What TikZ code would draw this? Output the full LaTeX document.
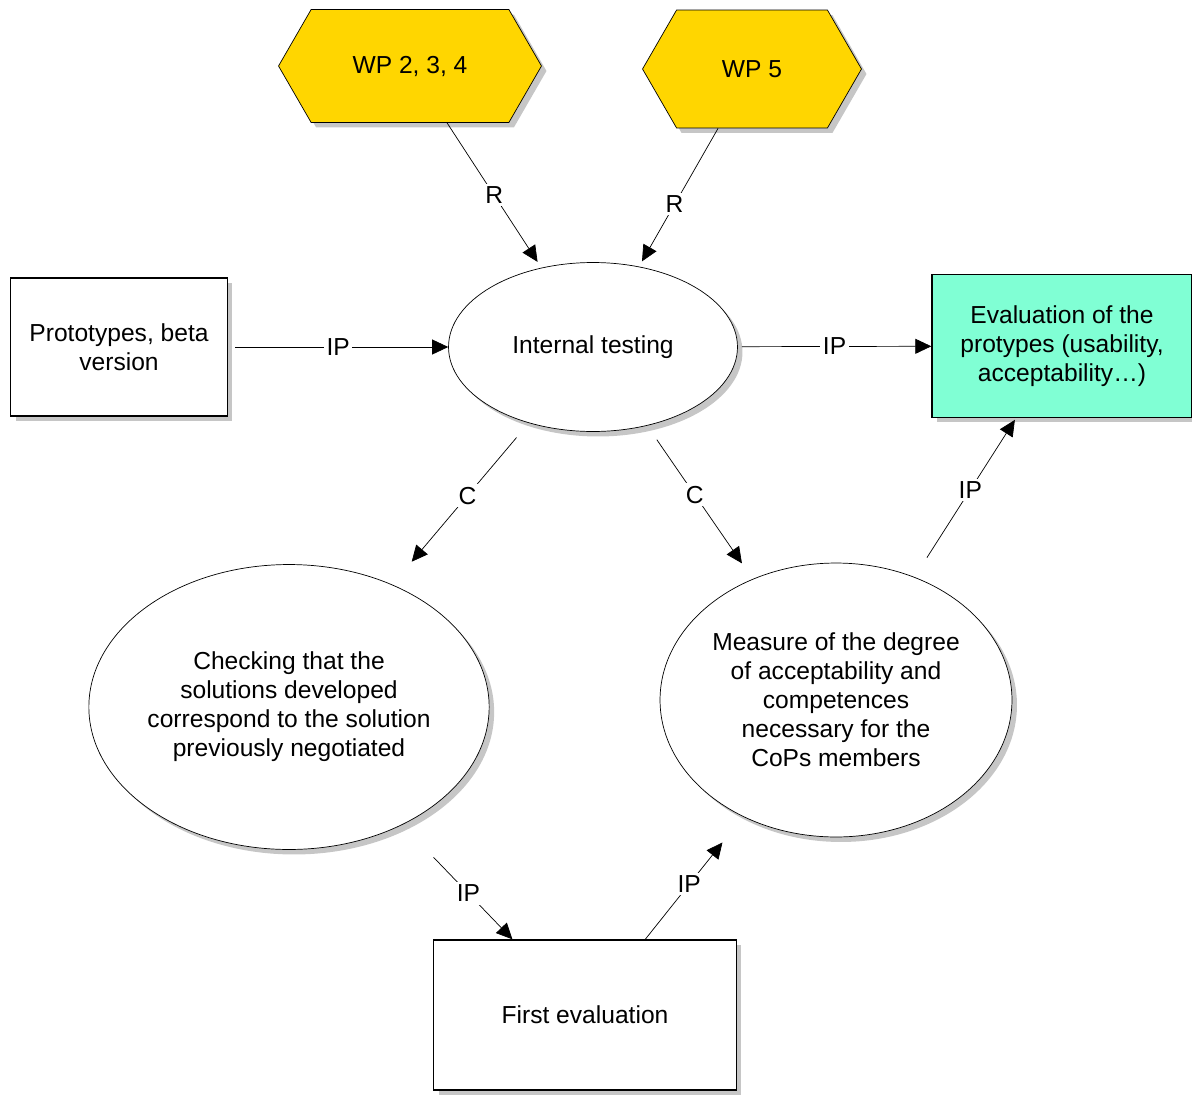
\documentclass[tikz,border=0pt]{standalone}
\usepackage{fontspec}
\setmainfont{Liberation Sans}
\usetikzlibrary{shapes.geometric,shapes.symbols,shadows,arrows.meta}
\definecolor{wpgold}{RGB}{255,214,0}
\definecolor{evalgreen}{RGB}{128,255,212}
\begin{document}
\begin{tikzpicture}[x=0.02cm,y=-0.02cm, font=\fontsize{14pt}{16.5pt}\selectfont,
	shade/.style={drop shadow={shadow xshift=0.1cm,shadow yshift=-0.1cm,fill=gray!45,opacity=1}},
	box/.style={draw,thick,fill=white,shade,align=center,inner sep=0pt},
	oval/.style={ellipse,draw,fill=white,shade,align=center,inner sep=0pt},
	wp/.style={signal,signal to=west and east,signal pointer angle=120,draw,fill=wpgold,shade,inner sep=0pt},
	link/.style={-{Triangle[length=0.32cm,width=0.3cm]}},
	lbl/.style={fill=white,inner sep=1.5pt}]
	\useasboundingbox (0,0) rectangle (1192,1095);
	% nodes
	\node[wp,minimum width=5.26cm,minimum height=2.26cm] (wpa) at (410,66) {WP 2, 3, 4};
	\node[wp,minimum width=4.38cm,minimum height=2.36cm] (wpb) at (752,69) {WP 5};
	\node[box,minimum width=4.34cm,minimum height=2.76cm] (proto) at (119,347) {Prototypes, beta\\version};
	\node[oval,minimum width=5.78cm,minimum height=3.38cm] (test) at (593,347) {Internal testing};
	\node[box,fill=evalgreen,minimum width=5.2cm,minimum height=2.86cm] (evalp) at (1062,346) {Evaluation of the\\protypes (usability,\\acceptability\dots)};
	\node[oval,minimum width=7.86cm,minimum height=5.7cm] (check) at (289,707) {Checking that the\\solutions developed\\correspond to the solution\\previously negotiated};
	\node[oval,minimum width=7.04cm,minimum height=5.48cm] (measure) at (836,700) {Measure of the degree\\of acceptability and\\competences\\necessary for the\\CoPs members};
	\node[box,minimum width=6.06cm,minimum height=3cm] (first) at (585,1015) {First evaluation};
	% connectors
	\draw[link,shorten >=0.14cm] (wpa) -- node[lbl]{R} (test);
	\draw[link,shorten >=0.12cm] (wpb) -- node[lbl,pos=0.55]{R} (test);
	\draw[link,shorten <=0.14cm] (proto) -- node[lbl]{IP} (test);
	\draw[link,shorten <=0.08cm] (test) -- node[lbl]{IP} (evalp);
	\draw[link,shorten <=0.38cm,shorten >=0.6cm] (test) -- node[lbl,pos=0.45]{C} (check);
	\draw[link,shorten <=0.34cm,shorten >=0.38cm] (test) -- node[lbl,pos=0.45]{C} (measure);
	\draw[link,shorten <=0.46cm,shorten >=0.04cm] (measure) -- node[lbl,pos=0.55]{IP} (evalp);
	\draw[link,shorten <=0.9cm] (check) -- node[lbl,pos=0.6]{IP} (first);
	\draw[link,shorten >=0.66cm] (first) -- node[lbl,pos=0.45]{IP} (measure);
\end{tikzpicture}
\end{document}
